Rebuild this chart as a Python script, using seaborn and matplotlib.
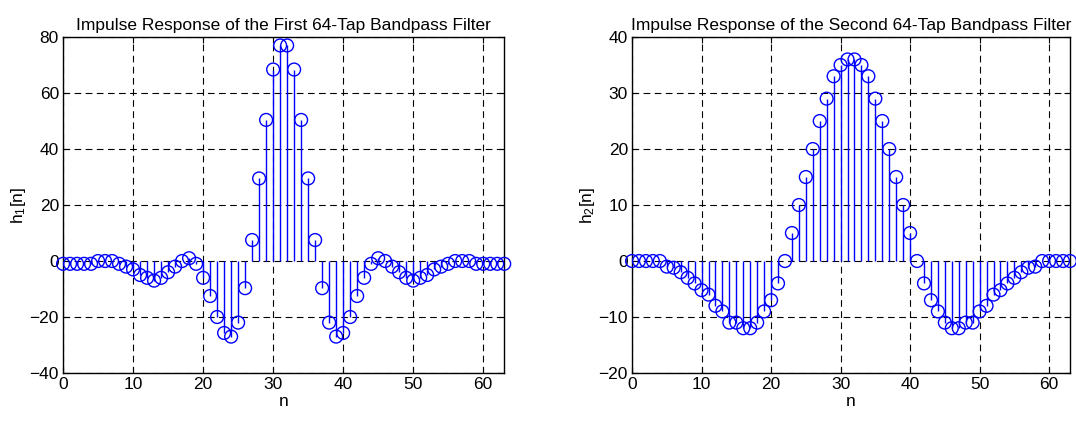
import numpy as np
import pandas as pd
import matplotlib
matplotlib.use("Agg")
import matplotlib.pyplot as plt
import seaborn as sns

# Tap values (symmetric linear-phase filters, 64 taps)

n = list(range(64))

h1 = [-1, -1, -1, -1, -1, 0, 0, 0, -1, -2,
      -3, -5, -6, -7, -6, -4, -2, 0, 1, -1,
      -6, -12.5, -20, -25.7, -27, -22, -9.7, 7.5, 29.5, 50.4,
      68.4, 77, 77, 68.4, 50.4, 29.5, 7.5, -9.7, -22, -27,
      -25.7, -20, -12.5, -6, -1, 1, 0, -2, -4, -6,
      -7, -6, -5, -3, -2, -1, 0, 0, 0, -1,
      -1, -1, -1, -1]

h2 = [0, 0, 0, 0, 0, -1, -1.2, -2, -3, -4,
      -5.2, -6, -8, -9, -11, -11, -12, -12, -11, -9,
      -7, -4, 0, 5, 10, 15, 20, 25, 29, 33,
      35, 36, 36, 35, 33, 29, 25, 20, 15, 10,
      5, 0, -4, -7, -9, -11, -12, -12, -11, -11,
      -9, -8, -6, -5.2, -4, -3, -2, -1.2, -1, 0,
      0, 0, 0, 0]

titles = ["Impulse Response of the First 64-Tap Bandpass Filter",
          "Impulse Response of the Second 64-Tap Bandpass Filter"]
ylabels = ["h$_1$[n]", "h$_2$[n]"]
ylims = [(-40, 80), (-20, 40)]
yticks = [np.arange(-40, 81, 20), np.arange(-20, 41, 10)]

sns.set_style("ticks")
plt.rcParams['font.family'] = ['Liberation Sans', 'DejaVu Sans']
plt.rcParams['mathtext.fontset'] = 'custom'
plt.rcParams['mathtext.rm'] = 'Liberation Sans'
plt.rcParams['mathtext.it'] = 'Liberation Sans'
plt.rcParams['text.color'] = 'black'
plt.rcParams['axes.labelcolor'] = 'black'

blue = "#0000ff"
fs = 12.5

fig = plt.figure(figsize=(10.76, 4.21), dpi=100)
ax1 = fig.add_axes([0.0586, 0.114, 0.41, 0.798])
ax2 = fig.add_axes([0.5874, 0.114, 0.407, 0.798])

for ax, h, title, ylab, ylim, yt in zip([ax1, ax2], [h1, h2], titles, ylabels, ylims, yticks):
    df = pd.DataFrame({'n': n, 'h': h})
    ax.vlines(df['n'], 0, df['h'], color=blue, linewidth=1)
    sns.scatterplot(x='n', y='h', data=df, ax=ax, marker='o', s=85,
                    facecolor='none', edgecolor=blue, linewidth=1, clip_on=False, zorder=3)
    ax.set_xlim(0, 63)
    ax.set_ylim(*ylim)
    ax.set_xticks(np.arange(0, 61, 10))
    ax.set_yticks(yt)
    ax.grid(True, color='black', linestyle=(0, (6, 4)), linewidth=0.8)
    ax.tick_params(direction='in', top=True, right=True, labelsize=fs, length=4,
                   colors='black', pad=3)
    for sp in ax.spines.values():
        sp.set_color('black')
        sp.set_linewidth(1)
    ax.set_title(title, fontsize=fs, pad=5, color='black')
    ax.set_xlabel('n', fontsize=fs, labelpad=1)
    ax.set_ylabel(ylab, fontsize=fs, labelpad=1)

plt.savefig("out.png", dpi=100)
